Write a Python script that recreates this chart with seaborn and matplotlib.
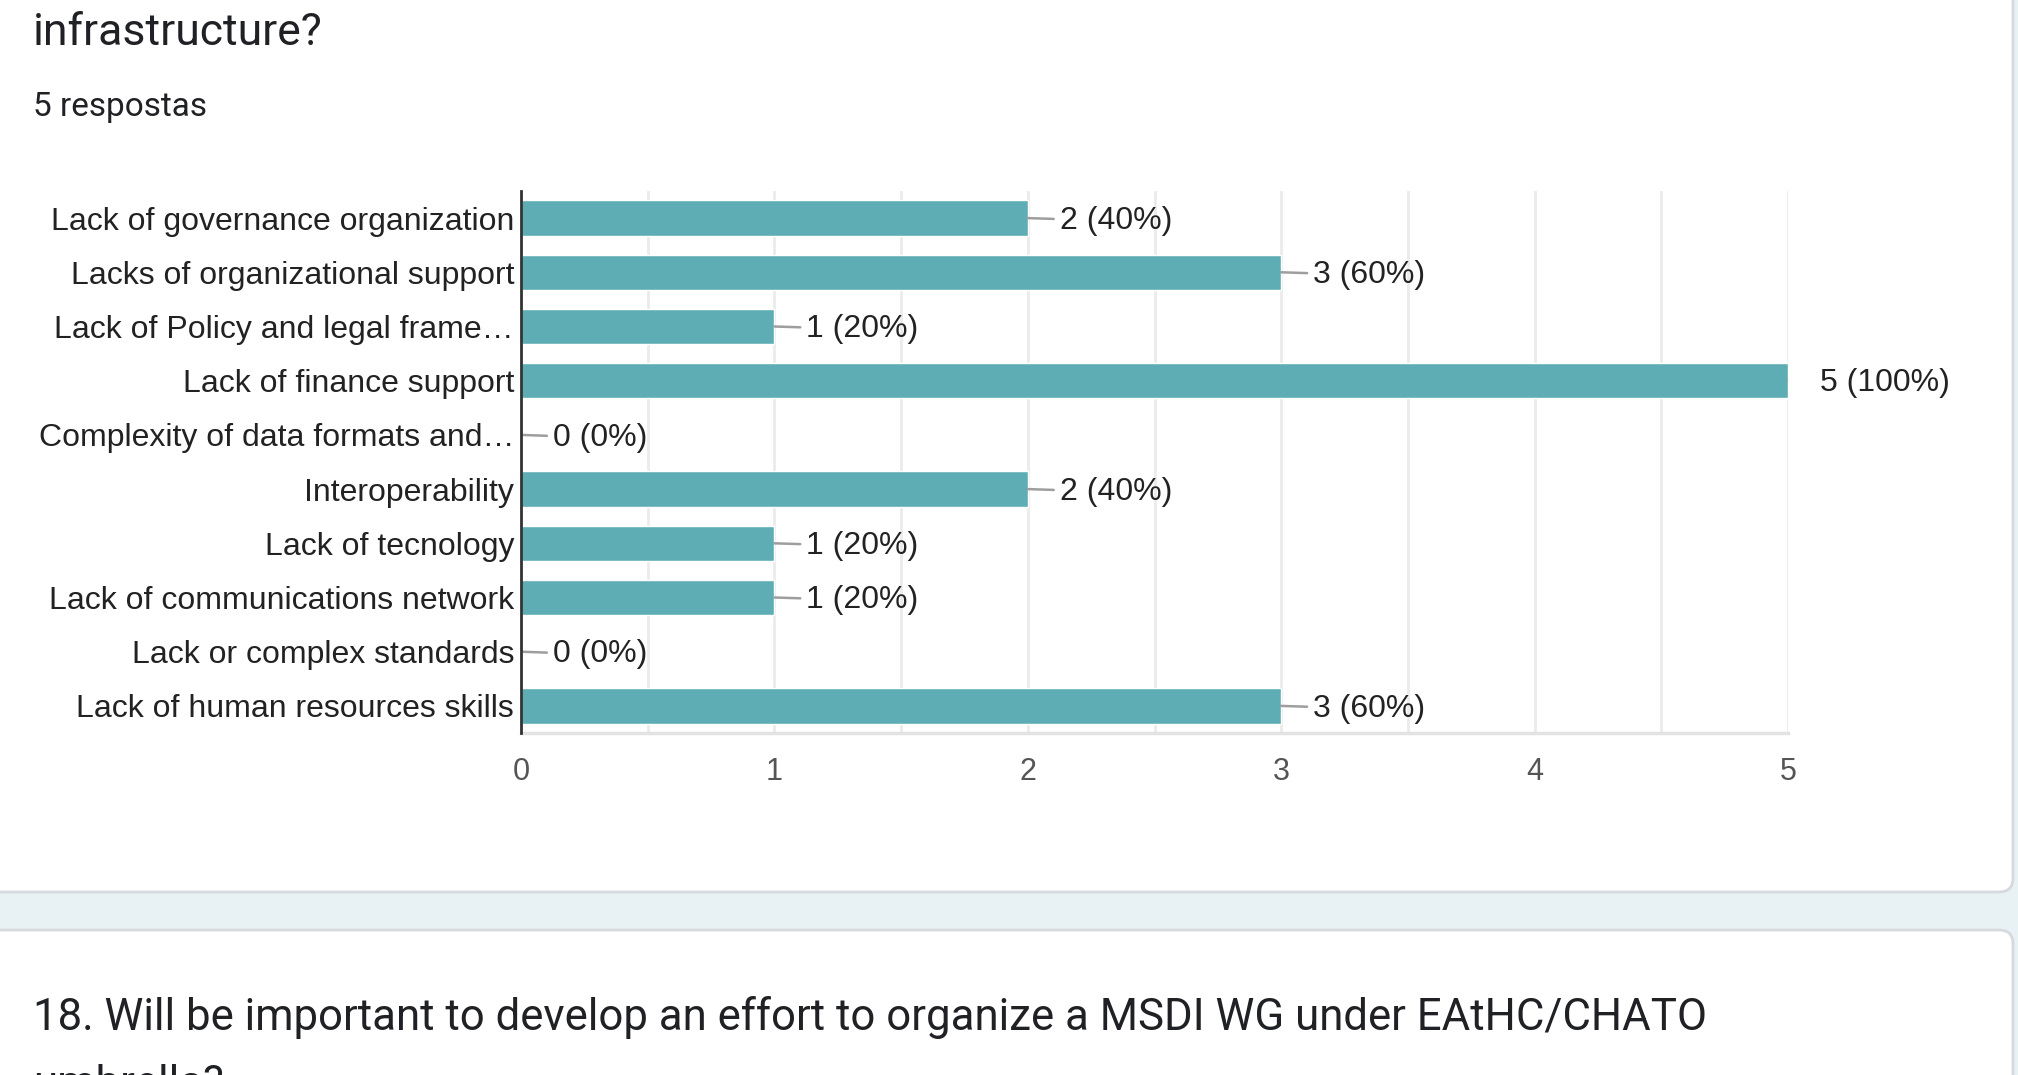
import matplotlib
matplotlib.use("Agg")
import matplotlib.pyplot as plt
from matplotlib.patches import FancyBboxPatch, Rectangle
from matplotlib.ticker import MultipleLocator
import seaborn as sns
import pandas as pd

# ---- data ----
categories = [
    "Lack of governance organization",
    "Lacks of organizational support",
    "Lack of Policy and legal frame\u2026",
    "Lack of finance support",
    "Complexity of data formats and\u2026",
    "Interoperability",
    "Lack of tecnology",
    "Lack of communications network",
    "Lack or complex standards",
    "Lack of human resources skills",
]
counts = [2, 3, 1, 5, 0, 2, 1, 1, 0, 3]
percents = [40, 60, 20, 100, 0, 40, 20, 20, 0, 60]
x_ticks = [0, 1, 2, 3, 4, 5]
title_line = "infrastructure?"
responses_text = "5 respostas"
next_question = ["18. Will be important to develop an effort to organize a MSDI WG under EAtHC/CHATO",
                 "umbrella?"]

W, H = 2018, 1075
DPI = 100
BAR = "#5fadb4"

sns.set_theme(style="white")
plt.rcParams["font.family"] = ["Liberation Sans", "DejaVu Sans"]

fig = plt.figure(figsize=(W / DPI, H / DPI), dpi=DPI)
fig.patch.set_facecolor("white")

# background page layer (pixel coordinates, origin top-left)
bg = fig.add_axes([0, 0, 1, 1], zorder=-5)
bg.set_xlim(0, W)
bg.set_ylim(H, 0)
bg.axis("off")
bg.add_patch(Rectangle((0, 0), W, H, color="#e8f2f5", zorder=0))
card1 = FancyBboxPatch((-40, -40), 2013 + 40, 892 + 40,
                       boxstyle="round,pad=0,rounding_size=14",
                       fc="white", ec="#d6d9dd", lw=2, zorder=1)
card2 = FancyBboxPatch((-40, 930), 2013 + 40, 300,
                       boxstyle="round,pad=0,rounding_size=14",
                       fc="white", ec="#d6d9dd", lw=2, zorder=1)
bg.add_patch(card1)
bg.add_patch(card2)

title_font = ["Roboto", "DejaVu Sans"]
bg.text(33, 45, title_line, fontsize=32, color="#202124", family=title_font,
        ha="left", va="baseline", zorder=3)
bg.text(33, 116, responses_text, fontsize=24, color="#202124", family=title_font,
        ha="left", va="baseline", zorder=3)
bg.text(33, 1030, next_question[0], fontsize=31.5, color="#202124", family=title_font,
        ha="left", va="baseline", zorder=3)
bg.text(33, 1097, next_question[1], fontsize=31.5, color="#202124", family=title_font,
        ha="left", va="baseline", zorder=3)

# chart axes
left, right, top, bottom = 521, 1788, 191, 733
ax = fig.add_axes([left / W, 1 - bottom / H, (right - left) / W, (bottom - top) / H])
ax.set_facecolor("none")

df = pd.DataFrame({"category": categories, "count": counts})
sns.barplot(data=df, x="count", y="category", orient="h", color=BAR,
            saturation=1, width=0.65, ax=ax, zorder=3)

ax.set_xlim(0, 5)
ax.set_ylim(len(categories) - 0.5, -0.5)
ax.set_xticks(x_ticks)
ax.set_xticklabels([str(t) for t in x_ticks])
ax.xaxis.set_minor_locator(MultipleLocator(0.5))
ax.grid(which="both", axis="x", color="#ebebeb", lw=2, zorder=0)
ax.grid(False, axis="y")
ax.set_axisbelow(True)
ax.set_xlabel("")
ax.set_ylabel("")
ax.tick_params(axis="x", which="both", length=0, pad=17, labelsize=22, labelcolor="#555555")
ax.tick_params(axis="y", length=0, pad=5, labelsize=23, labelcolor="#222222")

for s in ["top", "right"]:
    ax.spines[s].set_visible(False)
ax.spines["left"].set_color("#333333")
ax.spines["left"].set_linewidth(2)
ax.spines["left"].set_zorder(5)
ax.spines["bottom"].set_color("#e3e3e3")
ax.spines["bottom"].set_linewidth(2.5)

for i, (c, p) in enumerate(zip(counts, percents)):
    ann = ax.annotate(f"{c} ({p}%)", xy=(c, i), xytext=(23, -2), textcoords="offset points",
                      ha="left", va="center", fontsize=23, color="#222222",
                      annotation_clip=False,
                      arrowprops=dict(arrowstyle="-", color="#9e9e9e", lw=1.8,
                                      shrinkA=2, shrinkB=0))
    ann.arrow_patch.set_clip_box(ax.bbox)
    ann.arrow_patch.set_clip_on(True)

fig.savefig("out.png", dpi=DPI, facecolor=fig.get_facecolor())
